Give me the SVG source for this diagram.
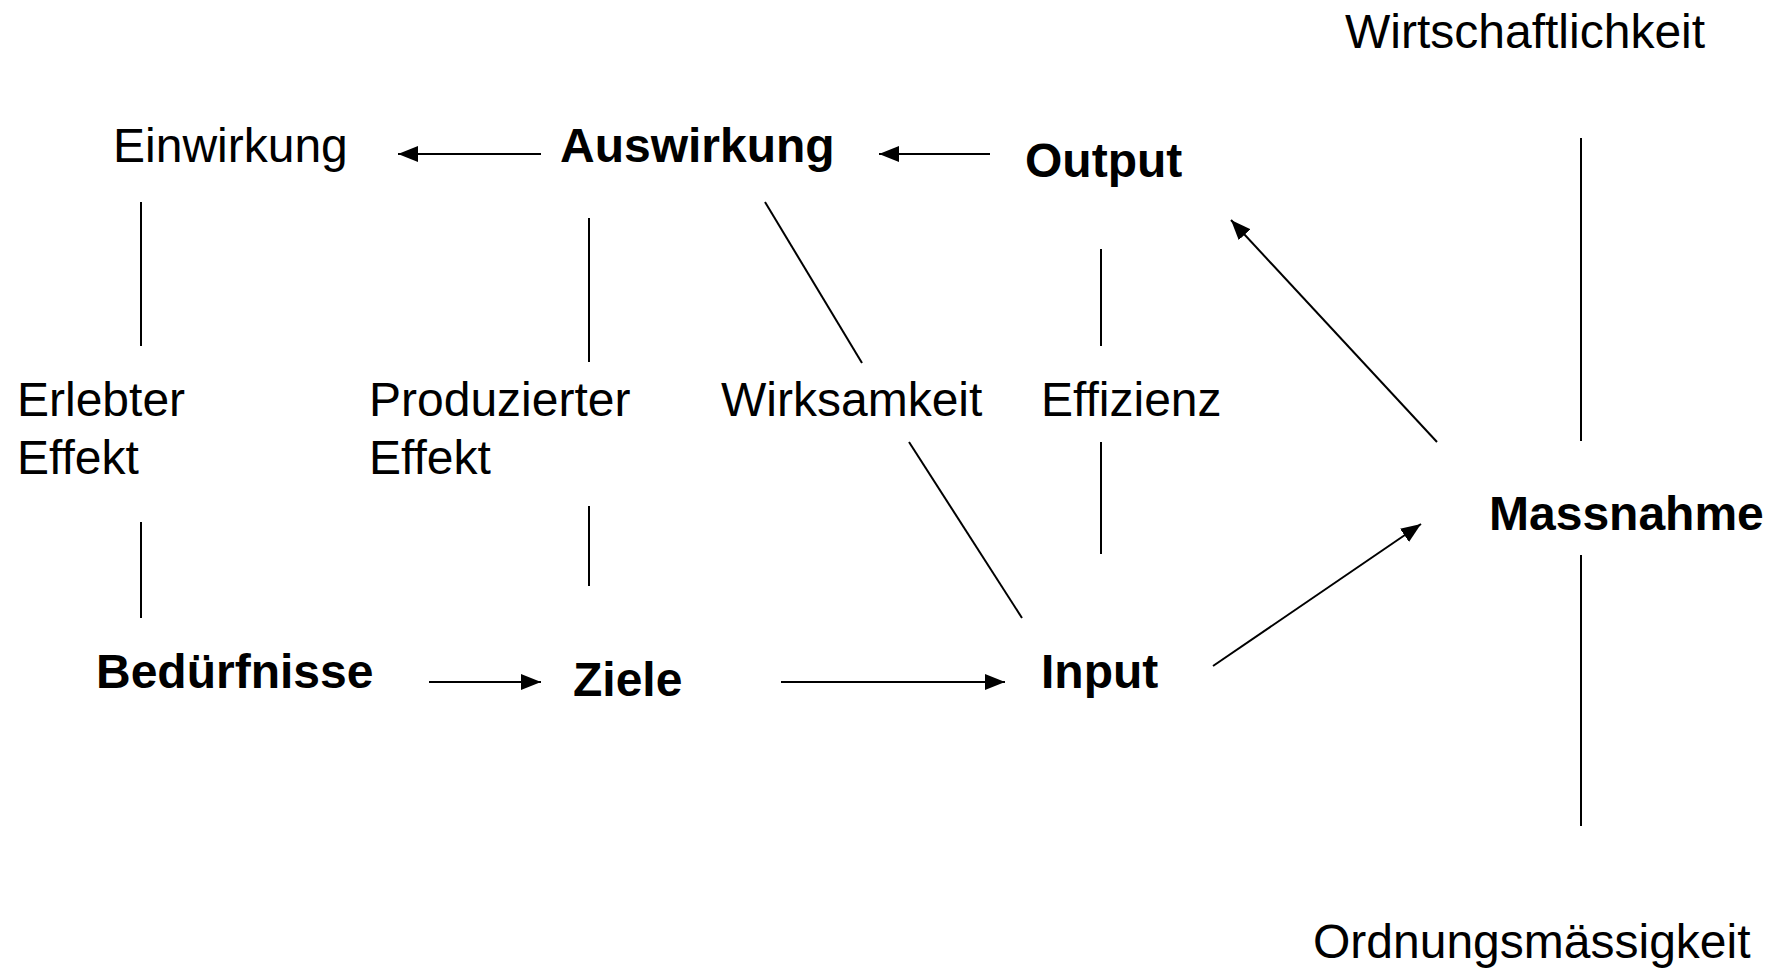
<svg xmlns="http://www.w3.org/2000/svg" width="1778" height="971" viewBox="0 0 1778 971">
<style>
text{font-family:"Liberation Sans",Arial,sans-serif;font-size:48px;fill:#000}
.b{font-weight:bold}
line{stroke:#000;stroke-width:2}
.a{marker-end:url(#ah)}
</style>
<defs>
<marker id="ah" viewBox="0 0 20 16" refX="20" refY="8" markerWidth="20" markerHeight="16" markerUnits="userSpaceOnUse" orient="auto">
<path d="M0,0 L20,8 L0,16 Z" fill="#000"/>
</marker>
</defs>
<rect width="1778" height="971" fill="#fff"/>
<g id="connectors">
<line class="a" x1="541" y1="154" x2="398" y2="154"/>
<line class="a" x1="990" y1="154" x2="879" y2="154"/>
<line x1="141" y1="202" x2="141" y2="346"/>
<line x1="141" y1="522" x2="141" y2="618"/>
<line x1="589" y1="218" x2="589" y2="362"/>
<line x1="589" y1="506" x2="589" y2="586"/>
<line x1="765" y1="202" x2="862" y2="363"/>
<line x1="909" y1="442" x2="1022" y2="618"/>
<line x1="1101" y1="249" x2="1101" y2="346"/>
<line x1="1101" y1="442" x2="1101" y2="554"/>
<line class="a" x1="1437" y1="442" x2="1231" y2="220"/>
<line class="a" x1="1213" y1="666" x2="1421" y2="524"/>
<line x1="1581" y1="138" x2="1581" y2="441"/>
<line x1="1581" y1="555" x2="1581" y2="826"/>
<line class="a" x1="429" y1="682" x2="541" y2="682"/>
<line class="a" x1="781" y1="682" x2="1005" y2="682"/>
</g>
<g id="wirtschaftlichkeit"><text x="1345" y="48">Wirtschaftlichkeit</text></g>
<g id="einwirkung"><text x="113" y="162">Einwirkung</text></g>
<g id="auswirkung"><text class="b" x="560" y="162">Auswirkung</text></g>
<g id="output"><text class="b" x="1025" y="177">Output</text></g>
<g id="erlebter"><text x="17" y="416">Erlebter</text><text x="17" y="474">Effekt</text></g>
<g id="produzierter"><text x="369" y="416">Produzierter</text><text x="369" y="474">Effekt</text></g>
<g id="wirksamkeit"><text x="721" y="416">Wirksamkeit</text></g>
<g id="effizienz"><text x="1041" y="416">Effizienz</text></g>
<g id="massnahme"><text class="b" x="1489" y="530">Massnahme</text></g>
<g id="beduerfnisse"><text class="b" x="96" y="688">Bedürfnisse</text></g>
<g id="ziele"><text class="b" x="573" y="696">Ziele</text></g>
<g id="input"><text class="b" x="1041" y="688">Input</text></g>
<g id="ordnungsmaessigkeit"><text x="1313" y="958">Ordnungsmässigkeit</text></g>
</svg>
